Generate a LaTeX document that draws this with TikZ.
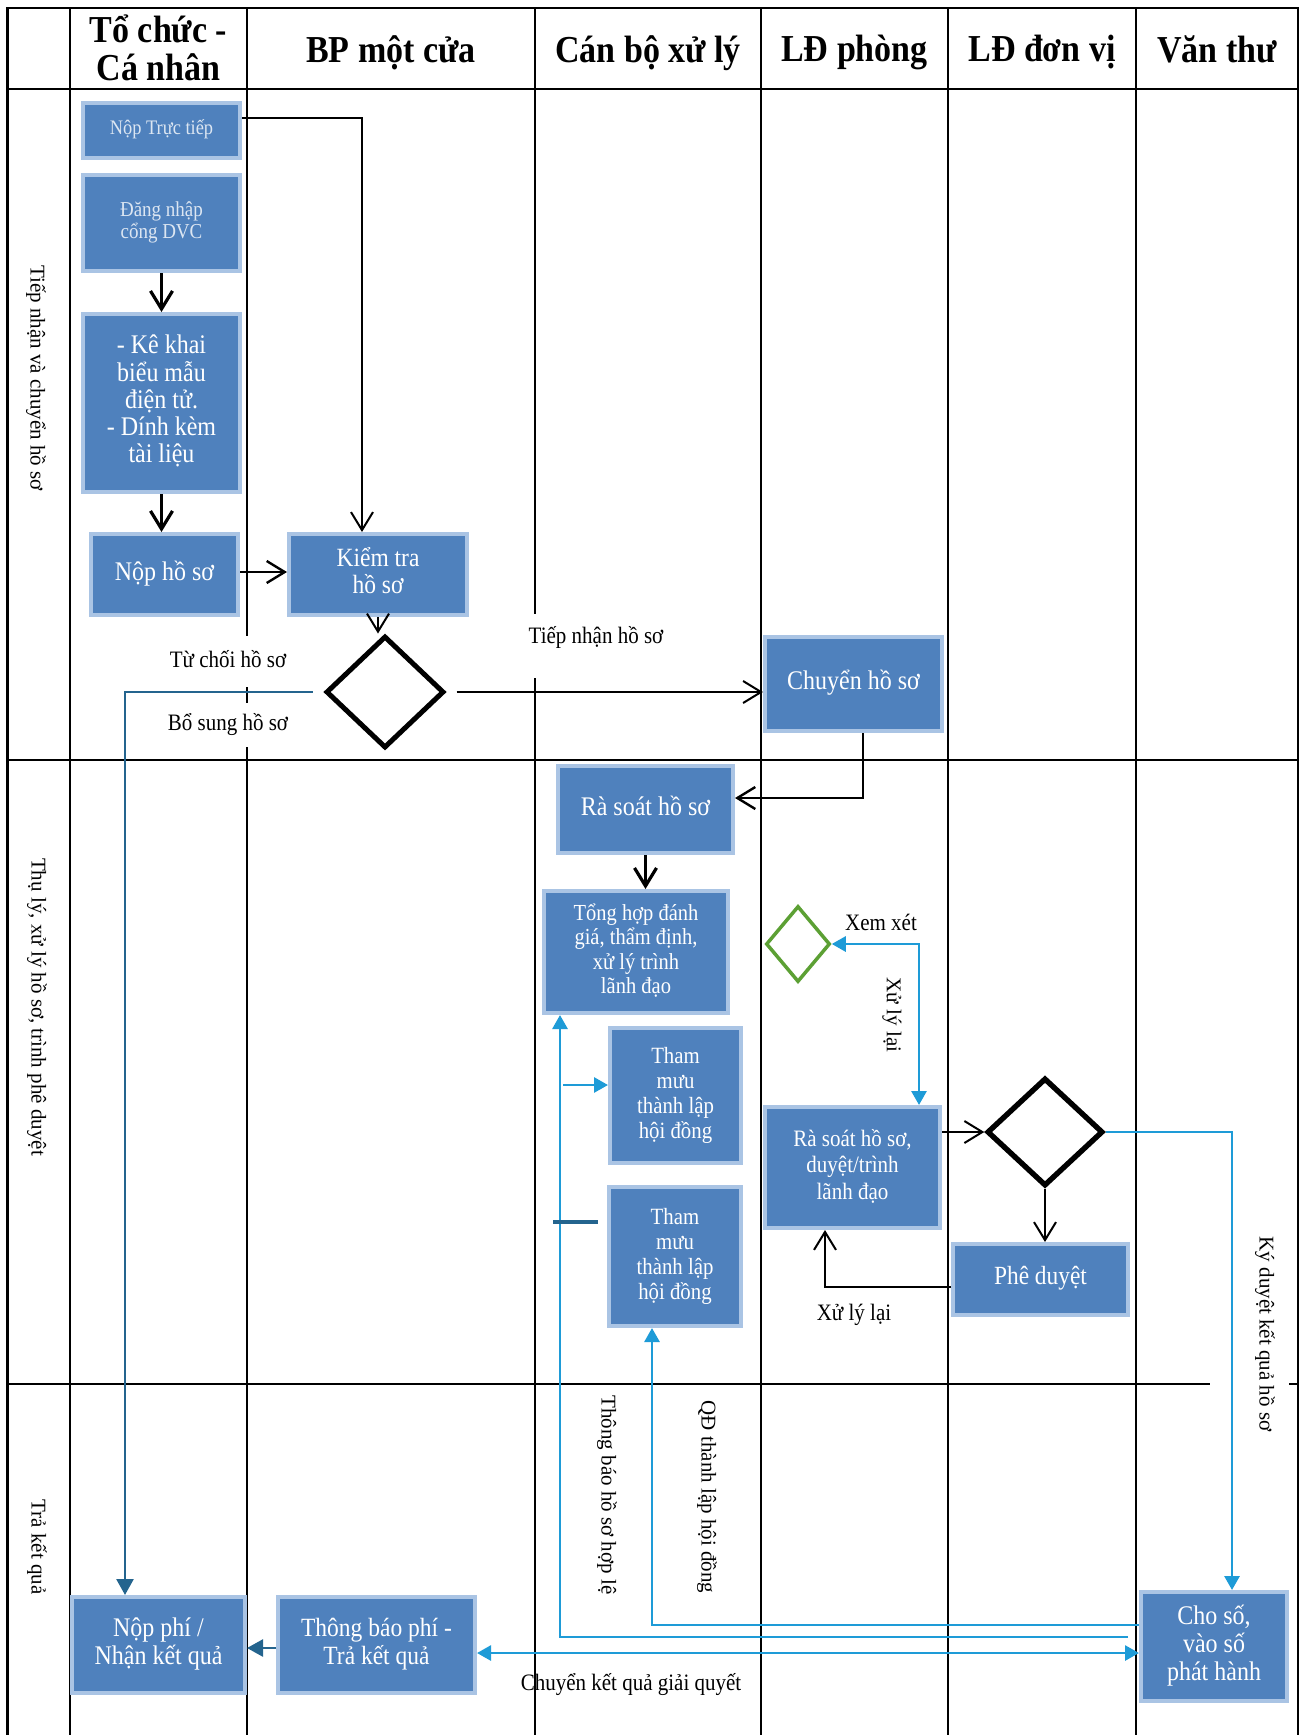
\documentclass[tikz,border=0pt]{standalone}
\usepackage{fontspec}
\usepackage{graphicx}
\setmainfont{Liberation Serif}
\usetikzlibrary{arrows.meta,shapes.geometric,calc}
\definecolor{boxfill}{RGB}{79,129,189}
\definecolor{boxedge}{RGB}{170,196,228}
\definecolor{lblue}{RGB}{30,155,215}
\definecolor{dteal}{RGB}{36,100,142}
\definecolor{dgreen}{RGB}{92,160,52}
\newcommand{\vst}[1]{\scalebox{1}[1.12]{\begin{tabular}{@{}c@{}}#1\end{tabular}}}
\begin{document}
\begin{tikzpicture}[x=0.5pt,y=-0.5pt,
  grid/.style={line width=1.3pt,black,line cap=rect},
  bx/.style={draw=boxedge,fill=boxfill,line width=2pt,text=white,inner sep=0pt},
  blk/.style={line width=1pt,black,-{Straight Barb[length=9pt,width=11pt]}},
  blkthick/.style={blk,line width=1.6pt},
  lb/.style={line width=1.4pt,lblue},
  lbarr/.style={lb,-{Triangle[length=7pt,width=7.5pt]}},
  lbdbl/.style={lb,{Triangle[length=7pt,width=7.5pt]}-{Triangle[length=7pt,width=7.5pt]}},
  dt/.style={line width=1.3pt,dteal},
  dtarr/.style={dt,-{Triangle[length=8pt,width=8.5pt]}},
  lab/.style={font=\fontsize{10.5}{11.2}\selectfont,inner sep=1pt},
  hdr/.style={font=\fontsize{17}{16}\selectfont\bfseries,inner sep=0pt},
]
\useasboundingbox (0,0) rectangle (1300,1735);

% ---------- grid ----------
\draw[grid] (7.5,8) -- (1298,8);
\draw[grid] (7.5,89) -- (1298,89);
\draw[grid] (7.5,760) -- (1298,760);
\draw[grid] (7.5,1384) -- (1209,1384);
\draw[grid] (1290,1384) -- (1298,1384);
\draw[grid] (7.5,8) -- (7.5,1735);
\draw[grid] (70,8) -- (70,1735);
\draw[grid] (247,8) -- (247,635);
\draw[grid] (247,688) -- (247,702);
\draw[grid] (247,748) -- (247,1735);
\draw[grid] (535,8) -- (535,613);
\draw[grid] (535,679) -- (535,1735);
\draw[grid] (761,8) -- (761,1735);
\draw[grid] (948,8) -- (948,1735);
\draw[grid] (1136,8) -- (1136,1735);
\draw[grid] (1298,8) -- (1298,1735);

% ---------- headers ----------
\node[hdr] (H1) at (158.5,53) {\vst{Tổ chức -\\Cá nhân}};
\node[hdr] (H2) at (391,54) {\vst{BP một cửa}};
\node[hdr] (H3) at (648,54) {\vst{Cán bộ xử lý}};
\node[hdr] (H4) at (854.5,54) {\vst{LĐ phòng}};
\node[hdr] (H5) at (1042,54) {\vst{LĐ đơn vị}};
\node[hdr] (H6) at (1217,54) {\vst{Văn thư}};

% ---------- row labels ----------
\node[lab,rotate=-90] (R1) at (36,378) {Tiếp nhận và chuyển hồ sơ};
\node[lab,rotate=-90] (R2) at (37,1007) {Thụ lý, xử lý hồ sơ, trình phê duyệt};
\node[lab,rotate=-90] (R3) at (37,1547) {Trả kết quả};

% ---------- boxes ----------
\node[bx,text=white!80!boxfill,minimum width=78.5pt,minimum height=27.5pt,font=\fontsize{9.2}{9.8}\selectfont] (B1) at (161.5,130.5) {\vst{Nộp Trực tiếp}};
\node[bx,text=white!80!boxfill,minimum width=78.5pt,minimum height=48pt,font=\fontsize{9.5}{9.8}\selectfont] (B2) at (161.5,223) {\vst{Đăng nhập\\cổng DVC}};
\node[bx,minimum width=78.5pt,minimum height=89pt,font=\fontsize{12}{12.05}\selectfont] (B3) at (161.5,403) {\vst{- Kê khai\\biểu mẫu\\điện tử.\\- Dính kèm\\tài liệu}};
\node[bx,minimum width=73.5pt,minimum height=40.5pt,font=\fontsize{12}{12}\selectfont] (B4) at (164.5,574.5) {\vst{Nộp hồ sơ}};
\node[bx,minimum width=89pt,minimum height=40.5pt,font=\fontsize{11.75}{11.6}\selectfont] (B5) at (378,574.5) {\vst{Kiểm tra\\hồ sơ}};
\node[diamond,draw=black,line width=2.5pt,inner sep=0pt,minimum width=59pt,minimum height=56pt] (D1) at (385,692) {};
\node[bx,minimum width=88.5pt,minimum height=47pt,font=\fontsize{12}{12}\selectfont] (B6) at (853.5,684) {\vst{Chuyển hồ sơ}};
\node[bx,minimum width=87.5pt,minimum height=43.5pt,font=\fontsize{12}{12}\selectfont] (B7) at (645.5,809.5) {\vst{Rà soát hồ sơ}};
\node[bx,minimum width=92pt,minimum height=61pt,font=\fontsize{10.25}{10.94}\selectfont] (B8) at (636,952) {\vst{Tổng hợp đánh\\giá, thẩm định,\\xử lý trình\\lãnh đạo}};
\node[diamond,draw=dgreen,line width=1.75pt,inner sep=0pt,minimum width=32pt,minimum height=38pt] (D2) at (798,944) {};
\node[bx,minimum width=65.5pt,minimum height=67.5pt,font=\fontsize{10.4}{11.16}\selectfont] (B9) at (675.5,1095.5) {\vst{Tham\\mưu\\thành lập\\hội đồng}};
\node[bx,minimum width=66pt,minimum height=69.5pt,font=\fontsize{10.4}{11.16}\selectfont] (B10) at (675,1256.5) {\vst{Tham\\mưu\\thành lập\\hội đồng}};
\node[bx,minimum width=87.5pt,minimum height=60.5pt,font=\fontsize{10.5}{11.9}\selectfont] (B11) at (852.5,1167.5) {\vst{Rà soát hồ sơ,\\duyệt/trình\\lãnh đạo}};
\node[diamond,draw=black,line width=2.7pt,inner sep=0pt,minimum width=58pt,minimum height=54pt] (D3) at (1045,1132) {};
\node[bx,minimum width=87.5pt,minimum height=35.5pt,font=\fontsize{11.7}{12}\selectfont] (B12) at (1040.5,1279.5) {\vst{Phê duyệt}};
\node[bx,minimum width=86.5pt,minimum height=48pt,font=\fontsize{12}{12.5}\selectfont] (B13) at (158.5,1645) {\vst{Nộp phí /\\Nhận kết quả}};
\node[bx,minimum width=98.5pt,minimum height=48pt,font=\fontsize{11.75}{12.5}\selectfont] (B14) at (376.5,1645) {\vst{Thông báo phí -\\Trả kết quả}};
\node[bx,minimum width=73pt,minimum height=54.5pt,font=\fontsize{12}{12.5}\selectfont] (B15) at (1214,1646.5) {\vst{Cho số,\\vào số\\phát hành}};

% ---------- labels ----------
\node[lab] (L1) at (596,638) {\vst{Tiếp nhận hồ sơ}};
\node[lab] (L2) at (228,662) {\vst{Từ chối hồ sơ}};
\node[lab] (L3) at (228,725) {\vst{Bổ sung hồ sơ}};
\node[lab] (L4) at (881,925) {\vst{Xem xét}};
\node[lab,rotate=-90] (L5) at (892,1015) {Xử lý lại};
\node[lab] (L6) at (854,1315) {\vst{Xử lý lại}};
\node[lab,rotate=-90] (L7) at (1265,1334) {Ký duyệt kết quả hồ sơ};
\node[lab,rotate=-90] (L8) at (607,1495) {Thông báo hồ sơ hợp lệ};
\node[lab,rotate=-90] (L9) at (707,1497) {QĐ thành lập hội đồng};
\node[lab] (L10) at (631,1685) {\vst{Chuyển kết quả giải quyết}};

% ---------- connectors ----------
\draw[blk] ($(B1.east)+(0,-12.5)$) -| ($(B5.north)+(-16,0)$);
\draw[blkthick] (B2.south) -- (B2.south |- B3.north);
\draw[blkthick] (B3.south) -- (B3.south |- B4.north);
\draw[blk,line width=1.2pt] ($(B4.east)+(0,-2.5)$) -- ($(B5.west)+(0,-2.5)$);
\draw[blk] (B5.south) -- (B5.south |- D1.north);
\draw[blk] ($(D1.east)+(10,0)$) -- (B6.west |- D1.east);
\draw[dtarr] ($(D1.west)+(-11,0)$) -| ($(B13.north)+(-33.5,0)$);
\draw[blk,line width=1.2pt] ($(B6.south)+(9.5,0)$) |- ($(B7.east)+(0,-11.5)$);
\draw[blkthick] (B7.south) -- (B7.south |- B8.north);
\draw[lbdbl] (D2.east) -| ($(B11.north)+(66.5,0)$);
\coordinate (v1) at ($(B8.south)+(-76,0)$);
\coordinate (t9) at ($(B9.west)+(0,-10.5)$);
\path (v1 |- t9) coordinate (c12s);
\draw[lbarr] ($(B15.west)+(-11,-9.5)$) -| (v1);
\draw[lbarr] ([xshift=1.5pt]c12s) -- (t9);
\coordinate (s1) at ($(B10.west)+(-54,-34.5)$);
\coordinate (s2) at ($(B10.west)+(-9,-34.5)$);
\draw[dt,line width=1.9pt] (s1) -- (s2);
\draw[lbarr] ($(B15.west)+(0,-21.5)$) -| ($(B10.south)+(-23,0)$);
\draw[lbdbl] ($(B15.west)+(0,6.5)$) -- ($(B14.east)+(0,8)$);
\draw[dtarr] ($(B14.west)+(0,3)$) -- ($(B13.east)+(0,3)$);
\draw[blk] ($(B11.east)+(0,-35.5)$) -- (D3.west);
\draw[blk] (D3.south) -- (D3.south |- B12.north);
\draw[blk] ($(B12.west)+(0,7.5)$) -| ($(B11.south)+(-27.5,0)$);
\draw[lbarr] (D3.east) -| ($(B15.north)+(18,0)$);
\end{tikzpicture}
\end{document}
